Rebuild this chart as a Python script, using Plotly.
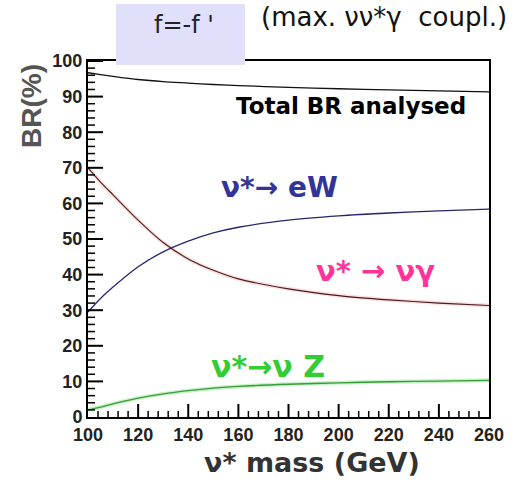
import plotly.graph_objects as go

# ---- data ----
mass = [100, 105, 110, 120, 130, 140, 150, 160, 180, 200, 220, 240, 260]
br_total = [96.7, 96.2, 95.7, 94.8, 94.2, 93.8, 93.4, 93.1, 92.6, 92.2, 91.9, 91.6, 91.3]
br_eW = [29.5, 33.3, 36.5, 42.2, 46.4, 49.4, 51.7, 53.3, 55.3, 56.5, 57.3, 57.9, 58.4]
br_nugamma = [70.0, 66.0, 62.4, 55.3, 49.0, 44.4, 41.2, 38.8, 36.0, 34.1, 32.9, 32.0, 31.3]
br_nuZ = [2.0, 2.8, 3.7, 5.3, 6.5, 7.4, 8.1, 8.6, 9.2, 9.6, 9.9, 10.1, 10.3]

x_ticks = [100, 120, 140, 160, 180, 200, 220, 240, 260]
y_ticks = [0, 10, 20, 30, 40, 50, 60, 70, 80, 90, 100]
x_minor_step = 4
y_minor_step = 2

W, H = 522, 482
L, R, T, B = 88, 33, 61, 65
pw, ph = W - L - R, H - T - B
x0, x1 = x_ticks[0], x_ticks[-1]
y0, y1 = y_ticks[0], y_ticks[-1]
xu = (x1 - x0) / pw   # data units per pixel
yu = (y1 - y0) / ph


def px(xp):
    return (xp - L) / pw


def py(yp):
    return (H - B - yp) / ph


fig = go.Figure()

# halos
fig.add_trace(go.Scatter(x=mass, y=br_nugamma, mode="lines", line=dict(color="rgba(240,110,110,0.22)", width=4, shape="spline", smoothing=0.8), hoverinfo="skip"))
fig.add_trace(go.Scatter(x=mass, y=br_nuZ, mode="lines", line=dict(color="rgba(110,225,110,0.4)", width=4, shape="spline", smoothing=0.8), hoverinfo="skip"))
# lines
fig.add_trace(go.Scatter(x=mass, y=br_total, mode="lines", line=dict(color="#111111", width=1.3, shape="spline", smoothing=0.8)))
fig.add_trace(go.Scatter(x=mass, y=br_eW, mode="lines", line=dict(color="#26266e", width=1.3, shape="spline", smoothing=0.8)))
fig.add_trace(go.Scatter(x=mass, y=br_nugamma, mode="lines", line=dict(color="#4a1a1a", width=1.1, shape="spline", smoothing=0.8)))
fig.add_trace(go.Scatter(x=mass, y=br_nuZ, mode="lines", line=dict(color="#3a9a3a", width=1.3, shape="spline", smoothing=0.8)))

# inside tick marks drawn on the axes' scales
x_minor = [v for v in range(x0, x1, x_minor_step) if v not in x_ticks]
y_minor = [v for v in range(y0, y1, y_minor_step) if v not in y_ticks]


def xticks_path(vals, length_px):
    xs, ys = [], []
    for v in vals:
        xs += [v, v, None]
        ys += [y0, y0 + length_px * yu, None]
    return xs, ys


def yticks_path(vals, length_px):
    xs, ys = [], []
    for v in vals:
        xs += [x0, x0 + length_px * xu, None]
        ys += [v, v, None]
    return xs, ys


for (xs, ys), w in [(xticks_path(x_ticks[1:-1], 13), 2), (xticks_path(x_minor, 6), 1.5),
                    (yticks_path(y_ticks[1:], 15), 2), (yticks_path(y_minor, 7), 1.5)]:
    fig.add_trace(go.Scatter(x=xs, y=ys, mode="lines", line=dict(color="black", width=w),
                             hoverinfo="skip", cliponaxis=False))

tfont = dict(family="Liberation Sans", size=18, color="#222222", weight="bold")

fig.update_layout(
    xaxis=dict(range=[x0, x1], tickvals=x_ticks, ticks="",
               showline=True, linewidth=2, linecolor="black", mirror=True, showgrid=False, zeroline=False,
               tickfont=tfont),
    yaxis=dict(range=[y0, y1], tickvals=y_ticks, ticks="",
               showline=True, linewidth=2, linecolor="black", mirror=True, showgrid=False, zeroline=False,
               tickfont=tfont),
)

ann = []
ann.append(dict(x=px(351), y=py(106), text="<b>Total BR analysed</b>", font=dict(family="DejaVu Sans", size=23, color="black")))
ann.append(dict(x=px(279), y=py(187), text="<b>ν*→ eW</b>", font=dict(family="DejaVu Sans", size=28, color="#333399")))
ann.append(dict(x=px(375), y=py(271), text="<b>ν* → νγ</b>", font=dict(family="DejaVu Sans", size=29, color="#ff3399")))
ann.append(dict(x=px(268), y=py(366), text="<b>ν*→ν Z</b>", font=dict(family="DejaVu Sans", size=30, color="#33cc33")))
ann.append(dict(x=px(312), y=py(462), text="<b>ν* mass (GeV)</b>", font=dict(family="DejaVu Sans", size=27, color="#333333")))
ann.append(dict(x=px(31), y=py(106), text="<b>BR(%)</b>", textangle=-90, font=dict(family="Liberation Sans", size=28, color="#555555")))
ann.append(dict(x=px(184), y=py(25), text="f=-f '", font=dict(family="DejaVu Sans", size=24, color="#222222")))
ann.append(dict(x=px(384), y=py(17), text="(max. νν*γ  coupl.)", font=dict(family="DejaVu Sans", size=26, color="#111111")))

for a in ann:
    a.update(xref="paper", yref="paper", showarrow=False, xanchor="center", yanchor="middle")

fig.update_layout(
    width=W, height=H,
    margin=dict(l=L, r=R, t=T, b=B, pad=0),
    paper_bgcolor="white", plot_bgcolor="white",
    showlegend=False,
    annotations=ann,
    shapes=[dict(type="rect", xref="paper", yref="paper", x0=px(116), x1=px(245), y0=py(65), y1=py(4),
                 fillcolor="#e0e0fb", line=dict(width=0), layer="above")],
)

fig.write_html("out.html")
